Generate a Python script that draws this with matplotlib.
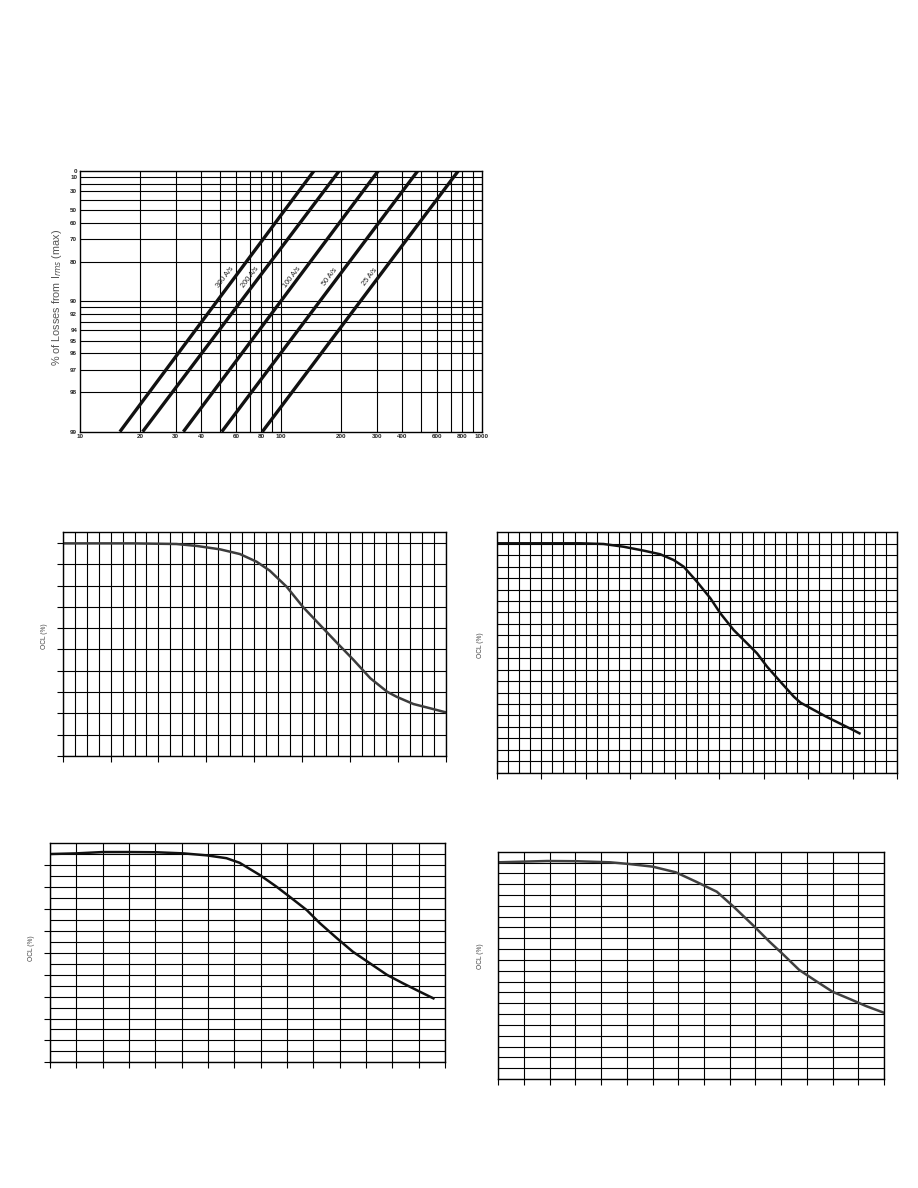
import numpy as np
import matplotlib.pyplot as plt

W, H = 918, 1188

# ---- top chart: % of losses vs current slew rate
rates = ['300 A/s', '200 A/s', '100 A/s', '50 A/s', '25 A/s']
x_at_99 = [15.8, 20.5, 32.7, 50.8, 80.9]
x_at_0 = [146, 195, 305, 480, 764]
lbl_x = [52.7, 70.2, 113.6, 175.7, 278]
lbl_p = 84.6

x_ticks = [10, 20, 30, 40, 60, 80, 100, 200, 300, 400, 600, 800, 1000]
x_grid = [20, 30, 40, 50, 60, 70, 80, 90, 100, 200, 300, 400, 500, 600, 700, 800, 900]
p_ticks = [0, 10, 30, 50, 60, 70, 80, 90, 92, 94, 95, 96, 97, 98, 99]
p_grid = [10, 20, 30, 40, 50, 60, 70, 80, 90, 91, 92, 93, 94, 95, 96, 97, 98]

# ---- four OCL curves (x in grid columns, y in %)
a_x = [0, 5.9, 9.5, 11.2, 13.15, 14.8, 16.2, 17.3, 18.7, 20.1, 21.5, 22.9, 24.3, 25.7, 27.1, 27.9, 29.3, 30.7, 32]
a_y = [99.8, 99.8, 99.5, 98.6, 97.0, 94.8, 91.2, 87.0, 79.5, 69.8, 61.5, 53.2, 45.1, 36.5, 30.2, 27.8, 24.4, 22.4, 20.5]

b_x = [0, 7.5, 9.6, 11.4, 13.2, 14.7, 15.9, 16.8, 18.0, 19.2, 20.1, 21.3, 22.5, 23.4, 24.3, 25.5, 26.7, 27.3, 28.5, 29.6, 30.8, 32.0, 32.6]
b_y = [100.2, 100.2, 99.9, 98.7, 97.0, 95.4, 92.9, 90.0, 83.4, 76.2, 69.6, 62.3, 56.5, 52.1, 46.3, 39.7, 33.2, 30.6, 27.4, 24.5, 21.6, 18.7, 17.2]

c_x = [0, 1.0, 2.0, 3.0, 4.05, 5.06, 5.95, 6.7, 7.2, 7.97, 8.6, 9.1, 9.75, 10.25, 10.9, 11.5, 12.15, 12.8, 13.4, 14.05, 14.56]
c_y = [95.1, 95.4, 96.0, 96.0, 95.9, 95.4, 94.5, 93.2, 91.1, 85.5, 80.2, 75.6, 69.5, 63.5, 56.6, 50.5, 45.2, 39.9, 36.1, 32.2, 29.2]

d_x = [0, 1.9, 3.05, 4.35, 5.1, 6.0, 6.9, 7.7, 8.5, 9.15, 9.9, 10.55, 11.1, 11.7, 12.4, 13.0, 13.7, 14.3, 15.0]
d_y = [100.1, 100.7, 100.6, 100.1, 99.3, 98.1, 95.5, 91.1, 86.5, 79.6, 71.1, 63.4, 57.3, 50.4, 44.9, 40.3, 36.8, 33.7, 30.6]


fig = plt.figure(figsize=(W/100, H/100), dpi=100)
plt.rcParams['font.family'] = ['Liberation Sans', 'DejaVu Sans']


def px_axes(l, t, r, b):
    return fig.add_axes([l/W, 1 - b/H, (r - l)/W, (b - t)/H])


def fwd(p):
    p = np.clip(np.asarray(p, dtype=float), 0, 99.99)
    return -np.log10(1 - p/100.0)


def inv(y):
    return 100.0*(1 - 10.0**(-np.asarray(y, dtype=float)))


#######
# Top chart
ax = px_axes(80, 171, 481.7, 431.7)
ax.set_xscale('log')
ax.set_yscale('function', functions=(fwd, inv))
ax.set_xlim(10, 1000)
ax.set_ylim(99, 0)

for xg in x_grid:
    ax.axvline(xg, color='k', lw=0.8)
for pg in p_grid:
    ax.axhline(pg, color='k', lw=0.8)

for i in range(len(rates)):
    ax.plot([x_at_99[i], x_at_0[i]], [99, 0], color='#111111', lw=2.4, solid_capstyle='butt')
    ax.text(lbl_x[i], lbl_p, rates[i], rotation=53, ha='center', va='center',
            fontsize=5.3, color='#222222')

ax.set_xticks(x_ticks)
ax.set_xticklabels([str(v) for v in x_ticks])
ax.set_xticks([], minor=True)
ax.set_yticks(p_ticks)
ax.set_yticklabels([str(v) for v in p_ticks])
ax.set_yticks([], minor=True)
ax.tick_params(length=0, labelsize=4.5, pad=2, labelcolor='#222222')
for lab in ax.get_xticklabels() + ax.get_yticklabels():
    lab.set_fontweight('bold')
for s in ax.spines.values():
    s.set_linewidth(1.0)
fig.text(57/W, 1 - 297/H, '% of Losses from I$_{rms}$ (max)', rotation=90,
         ha='center', va='center', fontsize=7.8, color='#555555')


#######
# OCL panels
def ocl_panel(rect, ncols, xmaj, ytop, ystep, ytick, xs, ys, col, lbl_pos):
    ax = px_axes(*rect)
    ax.set_xlim(0, ncols)
    ax.set_ylim(0, ytop)
    ax.set_xticks(np.arange(0, ncols + 1, xmaj))
    ax.set_xticks(np.arange(0, ncols + 1, 1), minor=True)
    ax.set_yticks(np.arange(0, ytop, ytick) if ytick else [])
    ax.set_yticks(np.arange(0, ytop, ystep), minor=True)
    ax.grid(which='both', color='k', lw=0.8)
    ax.tick_params(which='major', length=4, width=0.8, direction='out',
                   labelbottom=False, labelleft=False)
    ax.tick_params(which='minor', length=0)
    for s in ax.spines.values():
        s.set_linewidth(1.0)
    ax.plot(xs, ys, color=col, lw=1.8, solid_joinstyle='round')
    fig.text(lbl_pos[0]/W, 1 - lbl_pos[1]/H, 'OCL (%)', rotation=90,
             ha='center', va='center', fontsize=4.8, color='#444444')
    return ax


ocl_panel((62.7, 532.3, 445.7, 756), 32, 4, 105, 10, 10, a_x, a_y, '#3c3c3c', (45, 636))
ocl_panel((496.7, 532.3, 897.3, 772.7), 36, 4, 105, 5, None, b_x, b_y, '#111111', (481, 645))
ocl_panel((50, 843.3, 445, 1062.3), 15, 1, 100, 5, 10, c_x, c_y, '#111111', (31.5, 948))
ocl_panel((498.3, 851.7, 884, 1079), 15, 1, 105, 5, None, d_x, d_y, '#404040', (480, 956))

plt.savefig('out.png', dpi=100)
